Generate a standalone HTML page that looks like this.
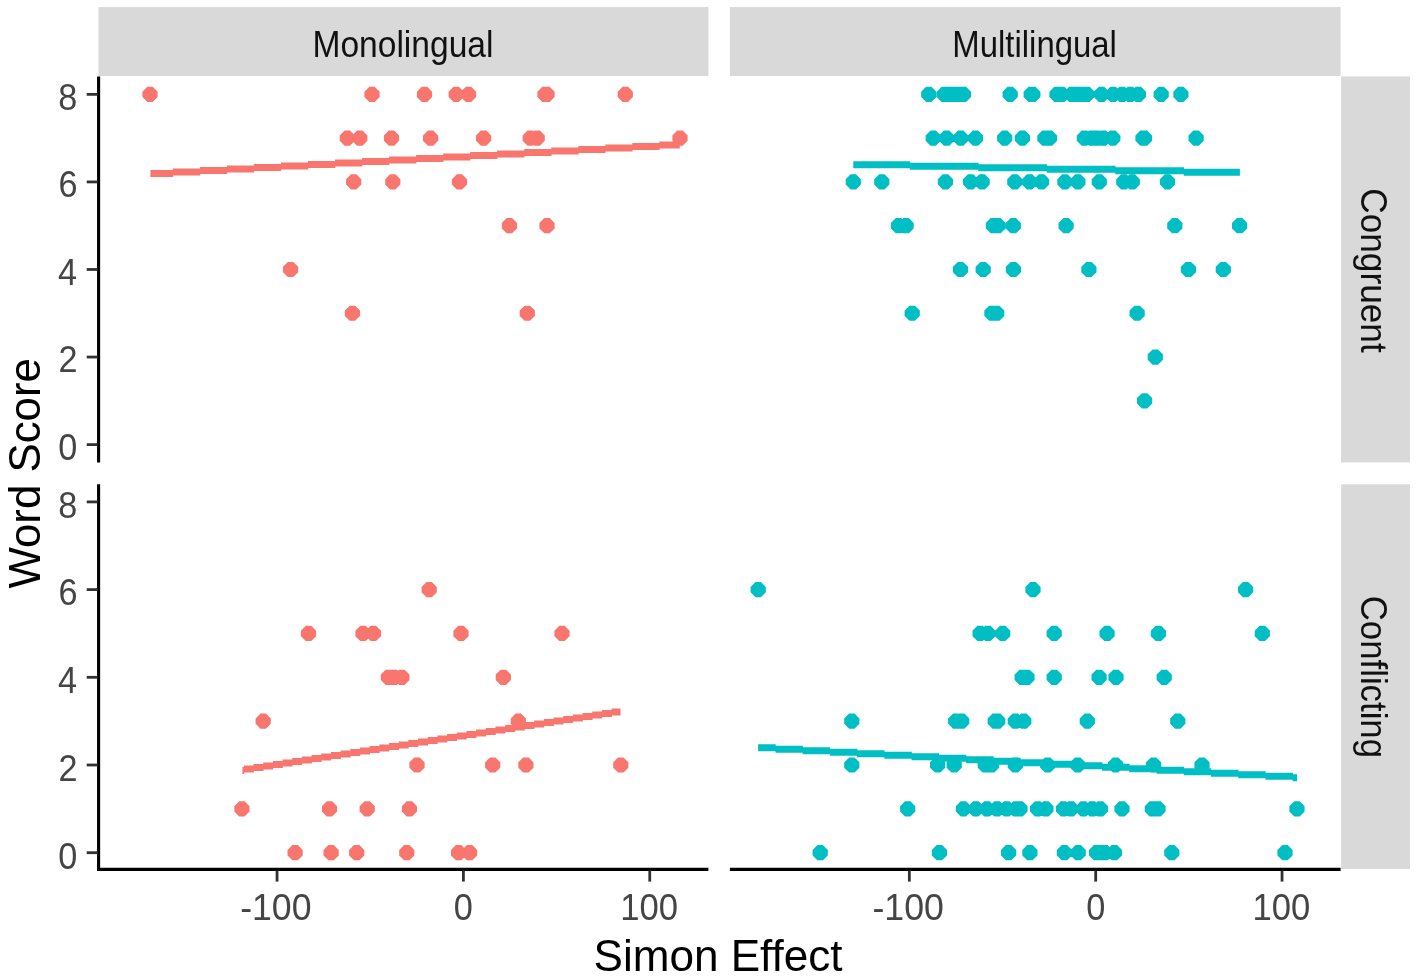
<!DOCTYPE html>
<html><head><meta charset="utf-8"><title>Word Score vs Simon Effect</title><style>html,body{margin:0;padding:0;background:#fff;}body{width:1417px;height:978px;overflow:hidden;font-family:"Liberation Sans",sans-serif;}svg{display:block;filter:blur(0.45px);}</style></head><body>
<svg width="1417" height="978" viewBox="0 0 1417 978">
<rect width="1417" height="978" fill="#fff"/>
<g fill="#D9D9D9"><rect x="98.5" y="7.1" width="609.9" height="68.9"/><rect x="729.9" y="7.1" width="610.7" height="68.9"/><rect x="1341.1" y="76.4" width="68.9" height="386.0"/><rect x="1341.1" y="484.3" width="68.9" height="384.7"/></g>
<g font-family="Liberation Sans, sans-serif" fill="#111"><text x="312.45" y="56.60" textLength="181.00" lengthAdjust="spacingAndGlyphs" font-size="36">Monolingual</text><text x="952.30" y="56.60" textLength="164.60" lengthAdjust="spacingAndGlyphs" font-size="36">Multilingual</text><text transform="translate(1360.80 188.21) rotate(90)" textLength="164.55" lengthAdjust="spacingAndGlyphs" font-size="36">Congruent</text><text transform="translate(1360.80 595.73) rotate(90)" textLength="162.31" lengthAdjust="spacingAndGlyphs" font-size="36">Conflicting</text></g>
<path fill="#F8766D" d="M147.30,86.76H152.70L157.60,91.66V97.06L152.70,101.96H147.30L142.40,97.06V91.66ZM369.30,86.76H374.70L379.60,91.66V97.06L374.70,101.96H369.30L364.40,97.06V91.66ZM421.80,86.76H427.20L432.10,91.66V97.06L427.20,101.96H421.80L416.90,97.06V91.66ZM453.50,86.76H458.90L463.80,91.66V97.06L458.90,101.96H453.50L448.60,97.06V91.66ZM465.80,86.76H471.20L476.10,91.66V97.06L471.20,101.96H465.80L460.90,97.06V91.66ZM542.30,86.76H547.70L552.60,91.66V97.06L547.70,101.96H542.30L537.40,97.06V91.66ZM544.30,86.76H549.70L554.60,91.66V97.06L549.70,101.96H544.30L539.40,97.06V91.66ZM622.60,86.76H628.00L632.90,91.66V97.06L628.00,101.96H622.60L617.70,97.06V91.66ZM344.60,130.54H350.00L354.90,135.44V140.84L350.00,145.74H344.60L339.70,140.84V135.44ZM357.10,130.54H362.50L367.40,135.44V140.84L362.50,145.74H357.10L352.20,140.84V135.44ZM388.80,130.54H394.20L399.10,135.44V140.84L394.20,145.74H388.80L383.90,140.84V135.44ZM427.90,130.54H433.30L438.20,135.44V140.84L433.30,145.74H427.90L423.00,140.84V135.44ZM480.90,130.54H486.30L491.20,135.44V140.84L486.30,145.74H480.90L476.00,140.84V135.44ZM527.50,130.54H532.90L537.80,135.44V140.84L532.90,145.74H527.50L522.60,140.84V135.44ZM534.50,130.54H539.90L544.80,135.44V140.84L539.90,145.74H534.50L529.60,140.84V135.44ZM677.30,130.54H682.70L687.60,135.44V140.84L682.70,145.74H677.30L672.40,140.84V135.44ZM351.00,174.32H356.40L361.30,179.22V184.62L356.40,189.52H351.00L346.10,184.62V179.22ZM390.10,174.32H395.50L400.40,179.22V184.62L395.50,189.52H390.10L385.20,184.62V179.22ZM456.80,174.32H462.20L467.10,179.22V184.62L462.20,189.52H456.80L451.90,184.62V179.22ZM506.70,218.10H512.10L517.00,223.00V228.40L512.10,233.30H506.70L501.80,228.40V223.00ZM544.30,218.10H549.70L554.60,223.00V228.40L549.70,233.30H544.30L539.40,228.40V223.00ZM287.90,261.88H293.30L298.20,266.78V272.18L293.30,277.08H287.90L283.00,272.18V266.78ZM349.70,305.66H355.10L360.00,310.56V315.96L355.10,320.86H349.70L344.80,315.96V310.56ZM524.60,305.66H530.00L534.90,310.56V315.96L530.00,320.86H524.60L519.70,315.96V310.56Z"/>
<path fill="#00BFC4" d="M926.10,86.76H931.50L936.40,91.66V97.06L931.50,101.96H926.10L921.20,97.06V91.66ZM941.60,86.76H947.00L951.90,91.66V97.06L947.00,101.96H941.60L936.70,97.06V91.66ZM946.30,86.76H951.70L956.60,91.66V97.06L951.70,101.96H946.30L941.40,97.06V91.66ZM951.30,86.76H956.70L961.60,91.66V97.06L956.70,101.96H951.30L946.40,97.06V91.66ZM956.30,86.76H961.70L966.60,91.66V97.06L961.70,101.96H956.30L951.40,97.06V91.66ZM960.70,86.76H966.10L971.00,91.66V97.06L966.10,101.96H960.70L955.80,97.06V91.66ZM1007.50,86.76H1012.90L1017.80,91.66V97.06L1012.90,101.96H1007.50L1002.60,97.06V91.66ZM1028.50,86.76H1033.90L1038.80,91.66V97.06L1033.90,101.96H1028.50L1023.60,97.06V91.66ZM1030.10,86.76H1035.50L1040.40,91.66V97.06L1035.50,101.96H1030.10L1025.20,97.06V91.66ZM1054.30,86.76H1059.70L1064.60,91.66V97.06L1059.70,101.96H1054.30L1049.40,97.06V91.66ZM1059.10,86.76H1064.50L1069.40,91.66V97.06L1064.50,101.96H1059.10L1054.20,97.06V91.66ZM1069.10,86.76H1074.50L1079.40,91.66V97.06L1074.50,101.96H1069.10L1064.20,97.06V91.66ZM1073.30,86.76H1078.70L1083.60,91.66V97.06L1078.70,101.96H1073.30L1068.40,97.06V91.66ZM1078.30,86.76H1083.70L1088.60,91.66V97.06L1083.70,101.96H1078.30L1073.40,97.06V91.66ZM1084.30,86.76H1089.70L1094.60,91.66V97.06L1089.70,101.96H1084.30L1079.40,97.06V91.66ZM1098.80,86.76H1104.20L1109.10,91.66V97.06L1104.20,101.96H1098.80L1093.90,97.06V91.66ZM1110.40,86.76H1115.80L1120.70,91.66V97.06L1115.80,101.96H1110.40L1105.50,97.06V91.66ZM1119.40,86.76H1124.80L1129.70,91.66V97.06L1124.80,101.96H1119.40L1114.50,97.06V91.66ZM1127.60,86.76H1133.00L1137.90,91.66V97.06L1133.00,101.96H1127.60L1122.70,97.06V91.66ZM1135.70,86.76H1141.10L1146.00,91.66V97.06L1141.10,101.96H1135.70L1130.80,97.06V91.66ZM1158.50,86.76H1163.90L1168.80,91.66V97.06L1163.90,101.96H1158.50L1153.60,97.06V91.66ZM1178.20,86.76H1183.60L1188.50,91.66V97.06L1183.60,101.96H1178.20L1173.30,97.06V91.66ZM930.50,130.54H935.90L940.80,135.44V140.84L935.90,145.74H930.50L925.60,140.84V135.44ZM943.90,130.54H949.30L954.20,135.44V140.84L949.30,145.74H943.90L939.00,140.84V135.44ZM958.00,130.54H963.40L968.30,135.44V140.84L963.40,145.74H958.00L953.10,140.84V135.44ZM972.80,130.54H978.20L983.10,135.44V140.84L978.20,145.74H972.80L967.90,140.84V135.44ZM1002.00,130.54H1007.40L1012.30,135.44V140.84L1007.40,145.74H1002.00L997.10,140.84V135.44ZM1019.70,130.54H1025.10L1030.00,135.44V140.84L1025.10,145.74H1019.70L1014.80,140.84V135.44ZM1042.20,130.54H1047.60L1052.50,135.44V140.84L1047.60,145.74H1042.20L1037.30,140.84V135.44ZM1046.80,130.54H1052.20L1057.10,135.44V140.84L1052.20,145.74H1046.80L1041.90,140.84V135.44ZM1081.70,130.54H1087.10L1092.00,135.44V140.84L1087.10,145.74H1081.70L1076.80,140.84V135.44ZM1089.20,130.54H1094.60L1099.50,135.44V140.84L1094.60,145.74H1089.20L1084.30,140.84V135.44ZM1094.30,130.54H1099.70L1104.60,135.44V140.84L1099.70,145.74H1094.30L1089.40,140.84V135.44ZM1100.70,130.54H1106.10L1111.00,135.44V140.84L1106.10,145.74H1100.70L1095.80,140.84V135.44ZM1110.10,130.54H1115.50L1120.40,135.44V140.84L1115.50,145.74H1110.10L1105.20,140.84V135.44ZM1140.30,130.54H1145.70L1150.60,135.44V140.84L1145.70,145.74H1140.30L1135.40,140.84V135.44ZM1141.80,130.54H1147.20L1152.10,135.44V140.84L1147.20,145.74H1141.80L1136.90,140.84V135.44ZM1193.40,130.54H1198.80L1203.70,135.44V140.84L1198.80,145.74H1193.40L1188.50,140.84V135.44ZM850.60,174.32H856.00L860.90,179.22V184.62L856.00,189.52H850.60L845.70,184.62V179.22ZM879.10,174.32H884.50L889.40,179.22V184.62L884.50,189.52H879.10L874.20,184.62V179.22ZM942.70,174.32H948.10L953.00,179.22V184.62L948.10,189.52H942.70L937.80,184.62V179.22ZM967.90,174.32H973.30L978.20,179.22V184.62L973.30,189.52H967.90L963.00,184.62V179.22ZM979.40,174.32H984.80L989.70,179.22V184.62L984.80,189.52H979.40L974.50,184.62V179.22ZM1012.10,174.32H1017.50L1022.40,179.22V184.62L1017.50,189.52H1012.10L1007.20,184.62V179.22ZM1026.90,174.32H1032.30L1037.20,179.22V184.62L1032.30,189.52H1026.90L1022.00,184.62V179.22ZM1038.90,174.32H1044.30L1049.20,179.22V184.62L1044.30,189.52H1038.90L1034.00,184.62V179.22ZM1062.20,174.32H1067.60L1072.50,179.22V184.62L1067.60,189.52H1062.20L1057.30,184.62V179.22ZM1075.20,174.32H1080.60L1085.50,179.22V184.62L1080.60,189.52H1075.20L1070.30,184.62V179.22ZM1096.60,174.32H1102.00L1106.90,179.22V184.62L1102.00,189.52H1096.60L1091.70,184.62V179.22ZM1121.10,174.32H1126.50L1131.40,179.22V184.62L1126.50,189.52H1121.10L1116.20,184.62V179.22ZM1129.60,174.32H1135.00L1139.90,179.22V184.62L1135.00,189.52H1129.60L1124.70,184.62V179.22ZM1164.80,174.32H1170.20L1175.10,179.22V184.62L1170.20,189.52H1164.80L1159.90,184.62V179.22ZM895.80,218.10H901.20L906.10,223.00V228.40L901.20,233.30H895.80L890.90,228.40V223.00ZM903.40,218.10H908.80L913.70,223.00V228.40L908.80,233.30H903.40L898.50,228.40V223.00ZM990.70,218.10H996.10L1001.00,223.00V228.40L996.10,233.30H990.70L985.80,228.40V223.00ZM995.30,218.10H1000.70L1005.60,223.00V228.40L1000.70,233.30H995.30L990.40,228.40V223.00ZM1010.60,218.10H1016.00L1020.90,223.00V228.40L1016.00,233.30H1010.60L1005.70,228.40V223.00ZM1063.40,218.10H1068.80L1073.70,223.00V228.40L1068.80,233.30H1063.40L1058.50,228.40V223.00ZM1172.10,218.10H1177.50L1182.40,223.00V228.40L1177.50,233.30H1172.10L1167.20,228.40V223.00ZM1236.90,218.10H1242.30L1247.20,223.00V228.40L1242.30,233.30H1236.90L1232.00,228.40V223.00ZM957.80,261.88H963.20L968.10,266.78V272.18L963.20,277.08H957.80L952.90,272.18V266.78ZM980.50,261.88H985.90L990.80,266.78V272.18L985.90,277.08H980.50L975.60,272.18V266.78ZM1010.70,261.88H1016.10L1021.00,266.78V272.18L1016.10,277.08H1010.70L1005.80,272.18V266.78ZM1086.20,261.88H1091.60L1096.50,266.78V272.18L1091.60,277.08H1086.20L1081.30,272.18V266.78ZM1185.70,261.88H1191.10L1196.00,266.78V272.18L1191.10,277.08H1185.70L1180.80,272.18V266.78ZM1220.60,261.88H1226.00L1230.90,266.78V272.18L1226.00,277.08H1220.60L1215.70,272.18V266.78ZM909.50,305.66H914.90L919.80,310.56V315.96L914.90,320.86H909.50L904.60,315.96V310.56ZM989.20,305.66H994.60L999.50,310.56V315.96L994.60,320.86H989.20L984.30,315.96V310.56ZM994.00,305.66H999.40L1004.30,310.56V315.96L999.40,320.86H994.00L989.10,315.96V310.56ZM1134.40,305.66H1139.80L1144.70,310.56V315.96L1139.80,320.86H1134.40L1129.50,315.96V310.56ZM1152.60,349.44H1158.00L1162.90,354.34V359.74L1158.00,364.64H1152.60L1147.70,359.74V354.34ZM1141.90,393.22H1147.30L1152.20,398.12V403.52L1147.30,408.42H1141.90L1137.00,403.52V398.12Z"/>
<path fill="#F8766D" d="M426.50,582.00H431.90L436.80,586.90V592.30L431.90,597.20H426.50L421.60,592.30V586.90ZM305.80,625.85H311.20L316.10,630.75V636.15L311.20,641.05H305.80L300.90,636.15V630.75ZM360.30,625.85H365.70L370.60,630.75V636.15L365.70,641.05H360.30L355.40,636.15V630.75ZM370.70,625.85H376.10L381.00,630.75V636.15L376.10,641.05H370.70L365.80,636.15V630.75ZM458.30,625.85H463.70L468.60,630.75V636.15L463.70,641.05H458.30L453.40,636.15V630.75ZM559.30,625.85H564.70L569.60,630.75V636.15L564.70,641.05H559.30L554.40,636.15V630.75ZM385.70,669.70H391.10L396.00,674.60V680.00L391.10,684.90H385.70L380.80,680.00V674.60ZM391.60,669.70H397.00L401.90,674.60V680.00L397.00,684.90H391.60L386.70,680.00V674.60ZM399.20,669.70H404.60L409.50,674.60V680.00L404.60,684.90H399.20L394.30,680.00V674.60ZM500.60,669.70H506.00L510.90,674.60V680.00L506.00,684.90H500.60L495.70,680.00V674.60ZM260.50,713.55H265.90L270.80,718.45V723.85L265.90,728.75H260.50L255.60,723.85V718.45ZM515.60,713.55H521.00L525.90,718.45V723.85L521.00,728.75H515.60L510.70,723.85V718.45ZM414.30,757.40H419.70L424.60,762.30V767.70L419.70,772.60H414.30L409.40,767.70V762.30ZM490.00,757.40H495.40L500.30,762.30V767.70L495.40,772.60H490.00L485.10,767.70V762.30ZM523.20,757.40H528.60L533.50,762.30V767.70L528.60,772.60H523.20L518.30,767.70V762.30ZM618.10,757.40H623.50L628.40,762.30V767.70L623.50,772.60H618.10L613.20,767.70V762.30ZM239.20,801.25H244.60L249.50,806.15V811.55L244.60,816.45H239.20L234.30,811.55V806.15ZM326.80,801.25H332.20L337.10,806.15V811.55L332.20,816.45H326.80L321.90,811.55V806.15ZM364.50,801.25H369.90L374.80,806.15V811.55L369.90,816.45H364.50L359.60,811.55V806.15ZM406.70,801.25H412.10L417.00,806.15V811.55L412.10,816.45H406.70L401.80,811.55V806.15ZM292.40,845.10H297.80L302.70,850.00V855.40L297.80,860.30H292.40L287.50,855.40V850.00ZM328.40,845.10H333.80L338.70,850.00V855.40L333.80,860.30H328.40L323.50,855.40V850.00ZM354.00,845.10H359.40L364.30,850.00V855.40L359.40,860.30H354.00L349.10,855.40V850.00ZM404.10,845.10H409.50L414.40,850.00V855.40L409.50,860.30H404.10L399.20,855.40V850.00ZM455.90,845.10H461.30L466.20,850.00V855.40L461.30,860.30H455.90L451.00,855.40V850.00ZM466.90,845.10H472.30L477.20,850.00V855.40L472.30,860.30H466.90L462.00,855.40V850.00Z"/>
<path fill="#00BFC4" d="M755.50,582.00H760.90L765.80,586.90V592.30L760.90,597.20H755.50L750.60,592.30V586.90ZM1030.30,582.00H1035.70L1040.60,586.90V592.30L1035.70,597.20H1030.30L1025.40,592.30V586.90ZM1242.90,582.00H1248.30L1253.20,586.90V592.30L1248.30,597.20H1242.90L1238.00,592.30V586.90ZM977.40,625.85H982.80L987.70,630.75V636.15L982.80,641.05H977.40L972.50,636.15V630.75ZM985.20,625.85H990.60L995.50,630.75V636.15L990.60,641.05H985.20L980.30,636.15V630.75ZM1000.00,625.85H1005.40L1010.30,630.75V636.15L1005.40,641.05H1000.00L995.10,636.15V630.75ZM1051.50,625.85H1056.90L1061.80,630.75V636.15L1056.90,641.05H1051.50L1046.60,636.15V630.75ZM1104.40,625.85H1109.80L1114.70,630.75V636.15L1109.80,641.05H1104.40L1099.50,636.15V630.75ZM1155.70,625.85H1161.10L1166.00,630.75V636.15L1161.10,641.05H1155.70L1150.80,636.15V630.75ZM1259.60,625.85H1265.00L1269.90,630.75V636.15L1265.00,641.05H1259.60L1254.70,636.15V630.75ZM1019.50,669.70H1024.90L1029.80,674.60V680.00L1024.90,684.90H1019.50L1014.60,680.00V674.60ZM1024.30,669.70H1029.70L1034.60,674.60V680.00L1029.70,684.90H1024.30L1019.40,680.00V674.60ZM1051.50,669.70H1056.90L1061.80,674.60V680.00L1056.90,684.90H1051.50L1046.60,680.00V674.60ZM1096.40,669.70H1101.80L1106.70,674.60V680.00L1101.80,684.90H1096.40L1091.50,680.00V674.60ZM1113.30,669.70H1118.70L1123.60,674.60V680.00L1118.70,684.90H1113.30L1108.40,680.00V674.60ZM1161.50,669.70H1166.90L1171.80,674.60V680.00L1166.90,684.90H1161.50L1156.60,680.00V674.60ZM849.10,713.55H854.50L859.40,718.45V723.85L854.50,728.75H849.10L844.20,723.85V718.45ZM953.00,713.55H958.40L963.30,718.45V723.85L958.40,728.75H953.00L948.10,723.85V718.45ZM959.00,713.55H964.40L969.30,718.45V723.85L964.40,728.75H959.00L954.10,723.85V718.45ZM992.50,713.55H997.90L1002.80,718.45V723.85L997.90,728.75H992.50L987.60,723.85V718.45ZM995.00,713.55H1000.40L1005.30,718.45V723.85L1000.40,728.75H995.00L990.10,723.85V718.45ZM1012.60,713.55H1018.00L1022.90,718.45V723.85L1018.00,728.75H1012.60L1007.70,723.85V718.45ZM1021.10,713.55H1026.50L1031.40,718.45V723.85L1026.50,728.75H1021.10L1016.20,723.85V718.45ZM1084.60,713.55H1090.00L1094.90,718.45V723.85L1090.00,728.75H1084.60L1079.70,723.85V718.45ZM1175.10,713.55H1180.50L1185.40,718.45V723.85L1180.50,728.75H1175.10L1170.20,723.85V718.45ZM849.10,757.40H854.50L859.40,762.30V767.70L854.50,772.60H849.10L844.20,767.70V762.30ZM934.90,757.40H940.30L945.20,762.30V767.70L940.30,772.60H934.90L930.00,767.70V762.30ZM951.50,757.40H956.90L961.80,762.30V767.70L956.90,772.60H951.50L946.60,767.70V762.30ZM982.60,757.40H988.00L992.90,762.30V767.70L988.00,772.60H982.60L977.70,767.70V762.30ZM988.90,757.40H994.30L999.20,762.30V767.70L994.30,772.60H988.90L984.00,767.70V762.30ZM1012.60,757.40H1018.00L1022.90,762.30V767.70L1018.00,772.60H1012.60L1007.70,767.70V762.30ZM1045.00,757.40H1050.40L1055.30,762.30V767.70L1050.40,772.60H1045.00L1040.10,767.70V762.30ZM1075.00,757.40H1080.40L1085.30,762.30V767.70L1080.40,772.60H1075.00L1070.10,767.70V762.30ZM1112.90,757.40H1118.30L1123.20,762.30V767.70L1118.30,772.60H1112.90L1108.00,767.70V762.30ZM1150.90,757.40H1156.30L1161.20,762.30V767.70L1156.30,772.60H1150.90L1146.00,767.70V762.30ZM1199.30,757.40H1204.70L1209.60,762.30V767.70L1204.70,772.60H1199.30L1194.40,767.70V762.30ZM905.00,801.25H910.40L915.30,806.15V811.55L910.40,816.45H905.00L900.10,811.55V806.15ZM960.70,801.25H966.10L971.00,806.15V811.55L966.10,816.45H960.70L955.80,811.55V806.15ZM973.10,801.25H978.50L983.40,806.15V811.55L978.50,816.45H973.10L968.20,811.55V806.15ZM984.20,801.25H989.60L994.50,806.15V811.55L989.60,816.45H984.20L979.30,811.55V806.15ZM994.30,801.25H999.70L1004.60,806.15V811.55L999.70,816.45H994.30L989.40,811.55V806.15ZM1004.00,801.25H1009.40L1014.30,806.15V811.55L1009.40,816.45H1004.00L999.10,811.55V806.15ZM1013.30,801.25H1018.70L1023.60,806.15V811.55L1018.70,816.45H1013.30L1008.40,811.55V806.15ZM1017.30,801.25H1022.70L1027.60,806.15V811.55L1022.70,816.45H1017.30L1012.40,811.55V806.15ZM1034.90,801.25H1040.30L1045.20,806.15V811.55L1040.30,816.45H1034.90L1030.00,811.55V806.15ZM1043.20,801.25H1048.60L1053.50,806.15V811.55L1048.60,816.45H1043.20L1038.30,811.55V806.15ZM1060.80,801.25H1066.20L1071.10,806.15V811.55L1066.20,816.45H1060.80L1055.90,811.55V806.15ZM1068.30,801.25H1073.70L1078.60,806.15V811.55L1073.70,816.45H1068.30L1063.40,811.55V806.15ZM1080.70,801.25H1086.10L1091.00,806.15V811.55L1086.10,816.45H1080.70L1075.80,811.55V806.15ZM1089.60,801.25H1095.00L1099.90,806.15V811.55L1095.00,816.45H1089.60L1084.70,811.55V806.15ZM1097.70,801.25H1103.10L1108.00,806.15V811.55L1103.10,816.45H1097.70L1092.80,811.55V806.15ZM1119.30,801.25H1124.70L1129.60,806.15V811.55L1124.70,816.45H1119.30L1114.40,811.55V806.15ZM1149.60,801.25H1155.00L1159.90,806.15V811.55L1155.00,816.45H1149.60L1144.70,811.55V806.15ZM1155.30,801.25H1160.70L1165.60,806.15V811.55L1160.70,816.45H1155.30L1150.40,811.55V806.15ZM1294.30,801.25H1299.70L1304.60,806.15V811.55L1299.70,816.45H1294.30L1289.40,811.55V806.15ZM817.50,845.10H822.90L827.80,850.00V855.40L822.90,860.30H817.50L812.60,855.40V850.00ZM936.70,845.10H942.10L947.00,850.00V855.40L942.10,860.30H936.70L931.80,855.40V850.00ZM1005.90,845.10H1011.30L1016.20,850.00V855.40L1011.30,860.30H1005.90L1001.00,855.40V850.00ZM1027.20,845.10H1032.60L1037.50,850.00V855.40L1032.60,860.30H1027.20L1022.30,855.40V850.00ZM1061.70,845.10H1067.10L1072.00,850.00V855.40L1067.10,860.30H1061.70L1056.80,855.40V850.00ZM1075.50,845.10H1080.90L1085.80,850.00V855.40L1080.90,860.30H1075.50L1070.60,855.40V850.00ZM1093.90,845.10H1099.30L1104.20,850.00V855.40L1099.30,860.30H1093.90L1089.00,855.40V850.00ZM1098.30,845.10H1103.70L1108.60,850.00V855.40L1103.70,860.30H1098.30L1093.40,855.40V850.00ZM1102.30,845.10H1107.70L1112.60,850.00V855.40L1107.70,860.30H1102.30L1097.40,855.40V850.00ZM1111.70,845.10H1117.10L1122.00,850.00V855.40L1117.10,860.30H1111.70L1106.80,855.40V850.00ZM1169.10,845.10H1174.50L1179.40,850.00V855.40L1174.50,860.30H1169.10L1164.20,855.40V850.00ZM1282.30,845.10H1287.70L1292.60,850.00V855.40L1287.70,860.30H1282.30L1277.40,855.40V850.00Z"/>
<path fill="#F8766D" d="M150.40,170.05H173.16V177.05H150.40ZM172.86,168.55H200.18V175.55H172.86ZM199.88,167.05H227.21V174.05H199.88ZM226.91,165.55H254.24V172.55H226.91ZM253.94,164.05H281.26V171.05H253.94ZM280.96,162.55H308.29V169.55H280.96ZM307.99,161.05H335.32V168.05H307.99ZM335.02,159.55H362.35V166.55H335.02ZM362.05,158.05H389.37V165.05H362.05ZM389.07,156.55H416.40V163.55H389.07ZM416.10,155.05H443.43V162.05H416.10ZM443.13,153.55H470.45V160.55H443.13ZM470.15,152.05H497.48V159.05H470.15ZM497.18,150.55H524.51V157.55H497.18ZM524.21,149.05H551.54V156.05H524.21ZM551.24,147.55H578.56V154.55H551.24ZM578.26,146.05H605.59V153.05H578.26ZM605.29,144.55H632.62V151.55H605.29ZM632.32,143.05H659.64V150.05H632.32ZM659.34,141.55H679.80V148.55H659.34Z"/>
<path fill="#00BFC4" d="M853.30,161.20H910.10V168.20H853.30ZM909.80,162.70H978.59V169.70H909.80ZM978.29,164.20H1047.09V171.20H978.29ZM1046.79,165.70H1115.58V172.70H1046.79ZM1115.28,167.20H1184.07V174.20H1115.28ZM1183.77,168.70H1239.90V175.70H1183.77Z"/>
<path fill="#F8766D" d="M242.40,766.94H244.15V773.94H242.40ZM243.85,765.44H253.83V772.44H243.85ZM253.53,763.94H263.51V770.94H253.53ZM263.21,762.44H273.19V769.44H263.21ZM272.89,760.94H282.86V767.94H272.89ZM282.56,759.44H292.54V766.44H282.56ZM292.24,757.94H302.22V764.94H292.24ZM301.92,756.44H311.90V763.44H301.92ZM311.60,754.94H321.57V761.94H311.60ZM321.27,753.44H331.25V760.44H321.27ZM330.95,751.94H340.93V758.94H330.95ZM340.63,750.44H350.61V757.44H340.63ZM350.31,748.94H360.28V755.94H350.31ZM359.98,747.44H369.96V754.44H359.98ZM369.66,745.94H379.64V752.94H369.66ZM379.34,744.44H389.32V751.44H379.34ZM389.02,742.94H398.99V749.94H389.02ZM398.69,741.44H408.67V748.44H398.69ZM408.37,739.94H418.35V746.94H408.37ZM418.05,738.44H428.03V745.44H418.05ZM427.73,736.94H437.70V743.94H427.73ZM437.40,735.44H447.38V742.44H437.40ZM447.08,733.94H457.06V740.94H447.08ZM456.76,732.44H466.74V739.44H456.76ZM466.44,730.94H476.41V737.94H466.44ZM476.11,729.44H486.09V736.44H476.11ZM485.79,727.94H495.77V734.94H485.79ZM495.47,726.44H505.45V733.44H495.47ZM505.15,724.94H515.12V731.94H505.15ZM514.82,723.44H524.80V730.44H514.82ZM524.50,721.94H534.48V728.94H524.50ZM534.18,720.44H544.15V727.44H534.18ZM543.85,718.94H553.83V725.94H543.85ZM553.53,717.44H563.51V724.44H553.53ZM563.21,715.94H573.19V722.94H563.21ZM572.89,714.44H582.86V721.44H572.89ZM582.56,712.94H592.54V719.94H582.56ZM592.24,711.44H602.22V718.44H592.24ZM601.92,709.94H611.90V716.94H601.92ZM611.60,708.44H620.50V715.44H611.60Z"/>
<path fill="#00BFC4" d="M758.10,744.25H775.70V751.25H758.10ZM775.40,745.75H802.92V752.75H775.40ZM802.62,747.25H830.15V754.25H802.62ZM829.85,748.75H857.37V755.75H829.85ZM857.07,750.25H884.59V757.25H857.07ZM884.29,751.75H911.82V758.75H884.29ZM911.52,753.25H939.04V760.25H911.52ZM938.74,754.75H966.26V761.75H938.74ZM965.96,756.25H993.49V763.25H965.96ZM993.19,757.75H1020.71V764.75H993.19ZM1020.41,759.25H1047.93V766.25H1020.41ZM1047.63,760.75H1075.16V767.75H1047.63ZM1074.86,762.25H1102.38V769.25H1074.86ZM1102.08,763.75H1129.60V770.75H1102.08ZM1129.30,765.25H1156.83V772.25H1129.30ZM1156.53,766.75H1184.05V773.75H1156.53ZM1183.75,768.25H1211.27V775.25H1183.75ZM1210.97,769.75H1238.49V776.75H1210.97ZM1238.19,771.25H1265.72V778.25H1238.19ZM1265.42,772.75H1292.94V779.75H1265.42ZM1292.64,774.25H1297.10V781.25H1292.64Z"/>
<g stroke="#000" stroke-width="3.1"><line x1="98.6" y1="76.4" x2="98.6" y2="462.4"/><line x1="98.6" y1="484.3" x2="98.6" y2="871.05"/><line x1="97.05" y1="869.4" x2="708.4" y2="869.4"/><line x1="729.9" y1="869.4" x2="1340.6" y2="869.4"/></g>
<g stroke="#333" stroke-width="2.8"><line x1="86.7" y1="444.60" x2="97.5" y2="444.60"/><line x1="86.7" y1="852.70" x2="97.5" y2="852.70"/><line x1="86.7" y1="357.04" x2="97.5" y2="357.04"/><line x1="86.7" y1="765.00" x2="97.5" y2="765.00"/><line x1="86.7" y1="269.48" x2="97.5" y2="269.48"/><line x1="86.7" y1="677.30" x2="97.5" y2="677.30"/><line x1="86.7" y1="181.92" x2="97.5" y2="181.92"/><line x1="86.7" y1="589.60" x2="97.5" y2="589.60"/><line x1="86.7" y1="94.36" x2="97.5" y2="94.36"/><line x1="86.7" y1="501.90" x2="97.5" y2="501.90"/><line x1="277.05" y1="870.5" x2="277.05" y2="881.6"/><line x1="909.35" y1="870.5" x2="909.35" y2="881.6"/><line x1="463.40" y1="870.5" x2="463.40" y2="881.6"/><line x1="1095.70" y1="870.5" x2="1095.70" y2="881.6"/><line x1="649.75" y1="870.5" x2="649.75" y2="881.6"/><line x1="1282.05" y1="870.5" x2="1282.05" y2="881.6"/></g>
<g font-family="Liberation Sans, sans-serif" font-size="36.3" fill="#454545"><text x="77.24" y="459.90" font-size="36.3" text-anchor="end" textLength="19.02" lengthAdjust="spacingAndGlyphs">0</text><text x="77.24" y="868.50" font-size="36.3" text-anchor="end" textLength="19.02" lengthAdjust="spacingAndGlyphs">0</text><text x="77.62" y="372.34" font-size="36.3" text-anchor="end" textLength="19.02" lengthAdjust="spacingAndGlyphs">2</text><text x="77.62" y="780.80" font-size="36.3" text-anchor="end" textLength="19.02" lengthAdjust="spacingAndGlyphs">2</text><text x="76.90" y="284.78" font-size="36.3" text-anchor="end" textLength="19.02" lengthAdjust="spacingAndGlyphs">4</text><text x="76.90" y="693.10" font-size="36.3" text-anchor="end" textLength="19.02" lengthAdjust="spacingAndGlyphs">4</text><text x="77.40" y="197.22" font-size="36.3" text-anchor="end" textLength="19.02" lengthAdjust="spacingAndGlyphs">6</text><text x="77.40" y="605.40" font-size="36.3" text-anchor="end" textLength="19.02" lengthAdjust="spacingAndGlyphs">6</text><text x="77.39" y="109.66" font-size="36.3" text-anchor="end" textLength="19.02" lengthAdjust="spacingAndGlyphs">8</text><text x="77.39" y="517.70" font-size="36.3" text-anchor="end" textLength="19.02" lengthAdjust="spacingAndGlyphs">8</text><text x="240.17" y="919.80" textLength="71.38" lengthAdjust="spacingAndGlyphs" font-size="36.3">-100</text><text x="872.47" y="919.80" textLength="71.38" lengthAdjust="spacingAndGlyphs" font-size="36.3">-100</text><text x="453.86" y="919.80" textLength="19.08" lengthAdjust="spacingAndGlyphs" font-size="36.3">0</text><text x="1086.16" y="919.80" textLength="19.08" lengthAdjust="spacingAndGlyphs" font-size="36.3">0</text><text x="620.21" y="919.80" textLength="57.79" lengthAdjust="spacingAndGlyphs" font-size="36.3">100</text><text x="1252.51" y="919.80" textLength="57.79" lengthAdjust="spacingAndGlyphs" font-size="36.3">100</text></g>
<g font-family="Liberation Sans, sans-serif" fill="#000"><text x="593.51" y="970.70" textLength="249.02" lengthAdjust="spacingAndGlyphs" font-size="45">Simon Effect</text><text transform="translate(39.60 588.59) rotate(-90)" textLength="230.53" lengthAdjust="spacingAndGlyphs" font-size="44.5">Word Score</text></g>
</svg>
</body></html>
